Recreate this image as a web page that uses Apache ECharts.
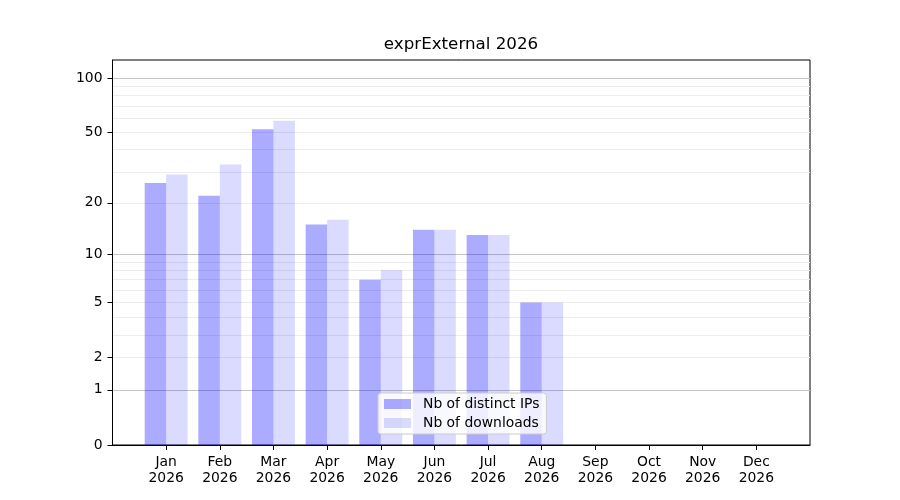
<!DOCTYPE html>
<html>
<head>
<meta charset="utf-8">
<title>exprExternal 2026</title>
<script src="https://cdn.jsdelivr.net/npm/echarts@6/dist/echarts.min.js"></script>
<style>
  html, body { margin: 0; padding: 0; background: #fff; }
  #chart { width: 900px; height: 500px; }
</style>
</head>
<body>
<div id="chart"></div>
<script>
// values
var months = ['Jan', 'Feb', 'Mar', 'Apr', 'May', 'Jun', 'Jul', 'Aug', 'Sep', 'Oct', 'Nov', 'Dec'];
var year = '2026';
var distinctIps = [26, 22, 52, 15, 7, 14, 13, 5, null, null, null, null];
var downloads = [29, 33, 58, 16, 8, 14, 13, 5, null, null, null, null];

// y axis is log10(1 + v)
var yTickLabels = [0, 1, 2, 5, 10, 20, 50, 100];
var yMajorGrid = [1, 10, 100];
var yMinorGrid = [2, 3, 4, 5, 6, 7, 8, 9, 20, 30, 40, 50, 60, 70, 80, 90];
var yTop = 125.6;

function fwd(v) { return v == null ? null : Math.log10(1 + v); }
function inv(t) { return Math.round(Math.pow(10, t) - 1); }

var font = 'DejaVu Sans';
// one empty slot on each side, like xlim(-1, 12)
var xCats = [''].concat(months.map(function (m) { return m + '\n' + year; }), ['']);
function pad(arr) { return [null].concat(arr.map(fwd), [null]); }

// hidden axes that only draw grid lines
function gridAxis(values, color) {
  return {
    type: 'value', min: 0, max: fwd(yTop), position: 'left', offset: 0,
    axisLine: { show: false },
    axisLabel: { show: false },
    axisTick: { show: false, customValues: values.map(fwd) },
    splitLine: { show: true, lineStyle: { color: color, width: 1 } }
  };
}

var chart = echarts.init(document.getElementById('chart'));
chart.setOption({
  animation: false,
  textStyle: { fontFamily: font },
  title: {
    text: 'exprExternal 2026',
    left: 461, top: 36, textAlign: 'center', padding: 0,
    textStyle: { fontFamily: font, fontSize: 16.7, fontWeight: 'normal', color: '#000' }
  },
  grid: {
    left: 112.5, right: 90, top: 60, bottom: 55,
    show: true, borderColor: '#000', borderWidth: 1, backgroundColor: 'transparent'
  },
  legend: {
    orient: 'vertical', left: 378, top: 393,
    padding: [4, 7, 4, 6], itemGap: 5, itemWidth: 27, itemHeight: 10,
    icon: 'rect',
    backgroundColor: 'rgba(255,255,255,0.8)', borderColor: '#cccccc', borderWidth: 1, borderRadius: 3,
    textStyle: { fontFamily: font, fontSize: 13.9, color: '#000', padding: [0, 0, 0, 7] },
    data: ['Nb of distinct IPs', 'Nb of downloads']
  },
  xAxis: {
    type: 'category', data: xCats, boundaryGap: false,
    axisLine: { lineStyle: { color: '#000' } },
    axisTick: { length: 5, lineStyle: { color: '#000' }, interval: function (i) { return i > 0 && i < xCats.length - 1; } },
    axisLabel: { interval: 0, margin: 9, color: '#000', fontFamily: font, fontSize: 13.9, lineHeight: 16 },
    splitLine: { show: false }
  },
  yAxis: [
    {
      type: 'value', min: 0, max: fwd(yTop), position: 'left',
      axisLine: { show: true, lineStyle: { color: '#000' } },
      axisTick: { show: true, length: 5, lineStyle: { color: '#000' }, customValues: yTickLabels.map(fwd) },
      axisLabel: {
        color: '#000', fontFamily: font, fontSize: 13.9, margin: 10, padding: [2, 0, 0, 0],
        customValues: yTickLabels.map(fwd),
        formatter: function (t) { return String(inv(t)); }
      },
      splitLine: { show: false }
    },
    gridAxis(yMinorGrid, '#ececec'),
    gridAxis(yMajorGrid, '#c4c4c4')
  ],
  series: [
    {
      name: 'Nb of distinct IPs', type: 'bar', yAxisIndex: 0,
      data: pad(distinctIps), barWidth: '40%', barGap: '0%',
      itemStyle: { color: 'rgba(0,0,255,0.33)' }
    },
    {
      name: 'Nb of downloads', type: 'bar', yAxisIndex: 0,
      data: pad(downloads), barWidth: '40%', barGap: '0%',
      itemStyle: { color: 'rgba(0,0,255,0.14)' }
    }
  ]
});
</script>
</body>
</html>
